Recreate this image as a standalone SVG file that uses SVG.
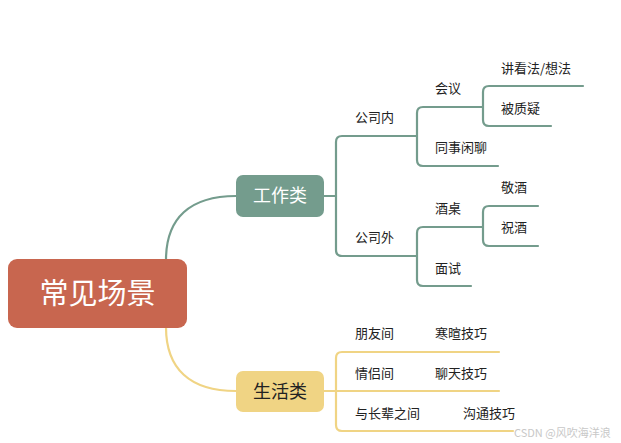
<svg xmlns="http://www.w3.org/2000/svg" width="621" height="443" viewBox="0 0 621 443">
<style>
.g{fill:none;stroke:#749C8D;stroke-width:2.2;stroke-linecap:round}
.y{fill:none;stroke:#F0D484;stroke-width:2.2;stroke-linecap:round}
.t{font-family:"Noto Sans CJK SC","Liberation Sans",sans-serif;font-size:13px;fill:#222}
</style>
<rect width="621" height="443" fill="#fff"/>
<g id="connectors">
<path class="g" d="M166 260 C166 218 190 196 236 196" stroke-width="3"/>
<path class="y" d="M166 327 C166 369 190 391 236 391" stroke-width="3"/>
<path class="g" d="M324 196 H336"/>
<path class="g" d="M417 136 H342 Q336 136 336 142 V250 Q336 256 342 256 H417"/>
<path class="g" d="M483 107 H423 Q417 107 417 113 V160 Q417 166 423 166 H498"/>
<path class="g" d="M583 86 H489 Q483 86 483 92 V120 Q483 126 489 126 H551"/>
<path class="g" d="M483 227 H423 Q417 227 417 233 V280 Q417 286 423 286 H471"/>
<path class="g" d="M538 206 H489 Q483 206 483 212 V240 Q483 246 489 246 H538"/>
<path class="y" d="M499 352 H342 Q336 352 336 358 V425 Q336 431 342 431 H513"/>
<path class="y" d="M324 391 H499"/>
</g>
<g id="root">
<rect x="8" y="259" width="179" height="69" rx="9" fill="#C8664F"/>
<text x="97.5" y="304" text-anchor="middle" font-family="Noto Sans CJK SC,sans-serif" font-size="29" fill="#fff">常见场景</text>
</g>
<g id="work">
<rect x="236" y="175" width="88" height="42" rx="7" fill="#749C8D"/>
<text x="280" y="202" text-anchor="middle" font-family="Noto Sans CJK SC,sans-serif" font-size="18" fill="#fff">工作类</text>
</g>
<g id="life">
<rect x="236" y="371" width="88" height="41" rx="7" fill="#F0D484"/>
<text x="280" y="397.5" text-anchor="middle" font-family="Noto Sans CJK SC,sans-serif" font-size="18" fill="#222">生活类</text>
</g>
<g id="n-gsn"><text class="t" x="355" y="122">公司内</text></g>
<g id="n-hy"><text class="t" x="435" y="93">会议</text></g>
<g id="n-jkf"><text class="t" x="501" y="73">讲看法/想法</text></g>
<g id="n-bzy"><text class="t" x="501" y="113">被质疑</text></g>
<g id="n-tsxl"><text class="t" x="435" y="152">同事闲聊</text></g>
<g id="n-gsw"><text class="t" x="355" y="242">公司外</text></g>
<g id="n-jz"><text class="t" x="435" y="213">酒桌</text></g>
<g id="n-jj"><text class="t" x="501" y="192">敬酒</text></g>
<g id="n-zj"><text class="t" x="501" y="232">祝酒</text></g>
<g id="n-ms"><text class="t" x="435" y="273">面试</text></g>
<g id="n-pyj"><text class="t" x="355" y="338">朋友间</text></g>
<g id="n-hxjq"><text class="t" x="435" y="338">寒暄技巧</text></g>
<g id="n-qlj"><text class="t" x="355" y="378">情侣间</text></g>
<g id="n-ltjq"><text class="t" x="435" y="378">聊天技巧</text></g>
<g id="n-yzb"><text class="t" x="355" y="418">与长辈之间</text></g>
<g id="n-gtjq"><text class="t" x="463" y="418">沟通技巧</text></g>
<text x="514" y="437" font-family="Noto Sans CJK SC,sans-serif" font-size="11" fill="#C8C8C8">CSDN @风吹海洋浪</text>
</svg>
